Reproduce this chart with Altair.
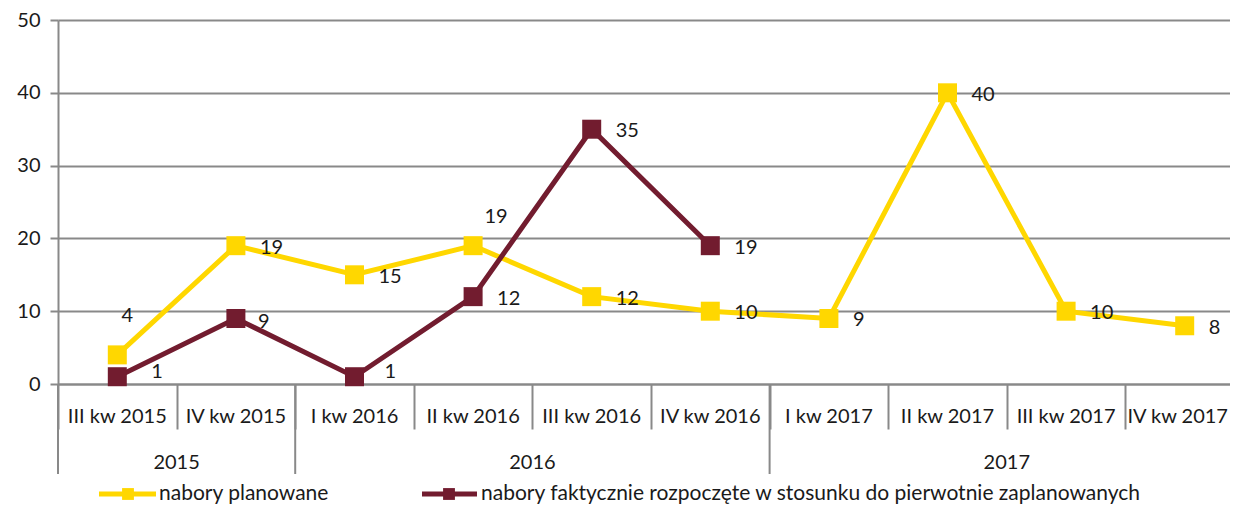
import altair as alt
import pandas as pd

categories = ["III kw 2015", "IV kw 2015", "I kw 2016", "II kw 2016", "III kw 2016",
              "IV kw 2016", "I kw 2017", "II kw 2017", "III kw 2017", "IV kw 2017"]
planned = [4, 19, 15, 19, 12, 10, 9, 40, 10, 8]
actual = [1, 9, 1, 12, 35, 19, None, None, None, None]
years = ["2015", "2016", "2017"]
year_first_quarter = ["III kw 2015", "I kw 2016", "I kw 2017"]
year_mid_boundary = ["IV kw 2015", "III kw 2016", "III kw 2017"]
series_names = ["nabory planowane",
                "nabory faktycznie rozpoczęte w stosunku do pierwotnie zaplanowanych"]
colors = ["#FFD700", "#721C2F"]

FONT = "Lato"
FS = 20
GRAY = "#898989"
TXT = "#1a1a1a"
W, H = 1186, 364

rows = []
for c, v in zip(categories, planned):
    rows.append({"cat": c, "value": v, "series": series_names[0]})
for c, v in zip(categories, actual):
    if v is not None:
        rows.append({"cat": c, "value": v, "series": series_names[1]})
df = pd.DataFrame(rows)
cat_df = pd.DataFrame({"cat": categories})
year_df = pd.DataFrame({"year": years, "cat": year_mid_boundary})
sep_df = pd.DataFrame({"cat": year_first_quarter})

xaxis = alt.Axis(labels=False, title=None, tickBand="extent", tickSize=45,
                 tickColor=GRAY, tickWidth=2, domainColor=GRAY, domainWidth=2,
                 grid=False)
xscale = alt.Scale(type="band", domain=categories, paddingInner=0, paddingOuter=0)


def X(band=0.5):
    return alt.X("cat:N", sort=categories, scale=xscale, axis=xaxis, bandPosition=band)


yenc = alt.Y("value:Q", scale=alt.Scale(domain=[0, 50], nice=False),
             axis=alt.Axis(values=[0, 10, 20, 30, 40, 50], title=None, grid=True,
                           gridColor=GRAY, gridWidth=2, tickColor=GRAY, tickWidth=2,
                           tickSize=8, domainColor=GRAY, domainWidth=2,
                           labelPadding=10, labelFont=FONT, labelFontSize=FS,
                           labelColor=TXT))
color = alt.Color("series:N", scale=alt.Scale(domain=series_names, range=colors), legend=None)

lines = alt.Chart(df).mark_line(strokeWidth=5).encode(x=X(), y=yenc, color=color)
points = alt.Chart(df).mark_point(shape="square", filled=True, size=361, opacity=1).encode(
    x=X(), y=yenc, color=color)

special = {
    (series_names[0], "III kw 2015"): dict(align="center", dx=10, dy=-39),
    (series_names[0], "II kw 2016"): dict(align="center", dx=23, dy=-29),
    (series_names[1], "III kw 2015"): dict(align="left", dx=34, dy=-5),
    (series_names[1], "I kw 2016"): dict(align="left", dx=30, dy=-5),
    (series_names[1], "IV kw 2015"): dict(align="left", dx=22, dy=4),
}


def lbl(**kw):
    return alt.Chart(df).mark_text(font=FONT, fontSize=FS, color=TXT, baseline="middle", **kw)


cond = " && ".join(
    f"!(datum.series == '{s}' && datum.cat == '{c}')" for (s, c) in special)
label_layers = [lbl(align="left", dx=24, dy=2).transform_filter(cond).encode(
    x=X(), y=yenc, text="value:Q")]
for (s, c), kw in special.items():
    label_layers.append(
        lbl(**kw).transform_filter(f"datum.series == '{s}' && datum.cat == '{c}'").encode(
            x=X(), y=yenc, text="value:Q"))

last_cat = categories[-1]
cat_labels = alt.Chart(cat_df).mark_text(font=FONT, fontSize=FS, color=TXT,
                                         baseline="middle").transform_filter(
    f"datum.cat != '{last_cat}'").encode(
    x=X(), y=alt.value(H + 33), text="cat:N")
cat_label_last = alt.Chart(cat_df).mark_text(font=FONT, fontSize=FS, color=TXT,
                                             baseline="middle", dx=-7).transform_filter(
    f"datum.cat == '{last_cat}'").encode(
    x=X(), y=alt.value(H + 33), text="cat:N")
year_labels = alt.Chart(year_df).mark_text(font=FONT, fontSize=FS, color=TXT,
                                           baseline="middle").encode(
    x=X(0), y=alt.value(H + 79), text="year:N")
year_seps = alt.Chart(sep_df).mark_rule(color=GRAY, strokeWidth=2).encode(
    x=X(0), y=alt.value(H), y2=alt.value(H + 90))

# legend
LY = H + 110
leg_layers = []
leg_pos = [(41, 98, 70, 101), (364, 419, 391, 423)]
for name, col, (x1, x2, xs, xt) in zip(series_names, colors, leg_pos):
    one = pd.DataFrame({"name": [name]})
    leg_layers.append(alt.Chart(one).mark_rule(color=col, strokeWidth=5).encode(
        x=alt.value(x1), x2=alt.value(x2), y=alt.value(LY)))
    leg_layers.append(alt.Chart(one).mark_point(shape="square", filled=True, size=140,
                                                color=col, opacity=1).encode(
        x=alt.value(xs), y=alt.value(LY)))
    leg_layers.append(alt.Chart(one).mark_text(font=FONT, fontSize=21, color=TXT,
                                               align="left", baseline="middle").encode(
        x=alt.value(xt), y=alt.value(LY), text="name:N"))

chart = alt.layer(year_seps, lines, points, *label_layers, cat_labels, cat_label_last,
                  year_labels, *leg_layers).properties(
    width=W, height=H,
    autosize=alt.AutoSizeParams(type="none"),
    padding={"left": 50, "right": -14, "top": 12, "bottom": 121},
    background="white",
).configure_view(stroke=None)

chart.save("out.html", embed_options={"renderer": "svg", "actions": False})
